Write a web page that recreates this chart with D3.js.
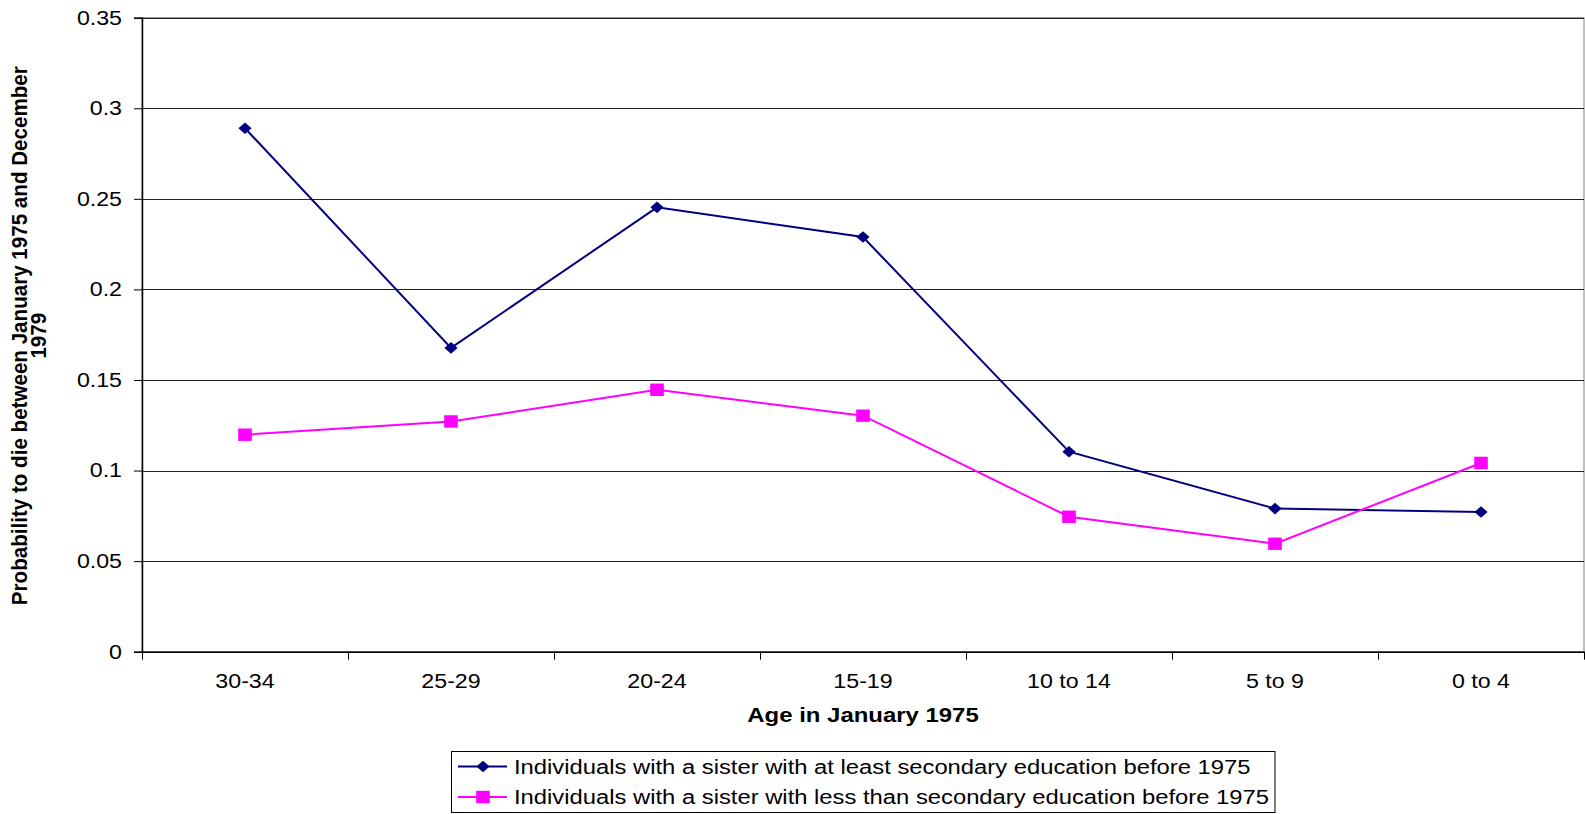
<!DOCTYPE html>
<html>
<head>
<meta charset="utf-8">
<script src="https://cdn.jsdelivr.net/npm/d3@7"></script>
<style>
  html, body { margin: 0; padding: 0; background: #fff; }
  svg { display: block; font-family: "Liberation Sans", Arial, sans-serif; }
</style>
</head>
<body>
<svg id="chart" width="1585" height="814"></svg>
<script>
const categories = ["30-34", "25-29", "20-24", "15-19", "10 to 14", "5 to 9", "0 to 4"];
const seriesAtLeast = [0.289, 0.1677, 0.2453, 0.2289, 0.1104, 0.0790, 0.0771];
const seriesLess = [0.1198, 0.1271, 0.1446, 0.1303, 0.0745, 0.0596, 0.1042];
const yTicks = [0, 0.05, 0.1, 0.15, 0.2, 0.25, 0.3, 0.35];
const seriesNames = [
  "Individuals with a sister with at least secondary education before 1975",
  "Individuals with a sister with less than secondary education before 1975"
];
const xTitle = "Age in January 1975";
const yTitleLines = ["Probability to die between January 1975 and December", "1979"];

const svg = d3.select("#chart");
const M = { left: 142, top: 17.7, right: 1584, bottom: 651.7 };
const FONT = "Liberation Sans, Arial, sans-serif";
const SX = 1.16;

const x = d3.scaleBand().domain(categories).range([M.left, M.right]).paddingInner(0).paddingOuter(0);
const y = d3.scaleLinear().domain([0, 0.35]).range([M.bottom, M.top]);

// plot border
svg.append("rect")
  .attr("x", M.left).attr("y", M.top)
  .attr("width", M.right - M.left).attr("height", M.bottom - M.top)
  .attr("fill", "none").attr("stroke", "#808080").attr("stroke-width", 1);

// gridlines
svg.append("g").selectAll("line")
  .data(yTicks.filter(d => d > 0))
  .join("line")
  .attr("x1", M.left).attr("x2", M.right)
  .attr("y1", d => Math.round(y(d)) + 0.5).attr("y2", d => Math.round(y(d)) + 0.5)
  .attr("stroke", "#222").attr("stroke-width", 1);

// y axis
const yAxis = svg.append("g")
  .attr("transform", `translate(${M.left},0)`)
  .call(d3.axisLeft(y).tickValues(yTicks).tickFormat(d => d === 0 ? "0" : String(+d.toFixed(2))).tickSize(8).tickPadding(12));
yAxis.select(".domain").attr("stroke", "#000").attr("stroke-width", 1.5);
yAxis.selectAll(".tick line").attr("stroke", "#000");
yAxis.selectAll("text")
  .attr("font-size", 20).attr("fill", "#000").attr("font-family", FONT)
  .attr("x", -20 / SX)
  .attr("transform", `scale(${SX},1)`);

// x axis
const xAxis = svg.append("g")
  .attr("transform", `translate(0,${M.bottom})`)
  .call(d3.axisBottom(x).tickSize(0).tickPadding(22));
xAxis.select(".domain").attr("stroke", "#000").attr("stroke-width", 1.5);
xAxis.selectAll("text")
  .attr("font-size", 20).attr("fill", "#000").attr("font-family", FONT)
  .attr("transform", `scale(${SX},1)`);
// boundary ticks between categories
const boundaries = categories.map(c => x(c)).concat([M.right]);
svg.append("g").selectAll("line")
  .data(boundaries)
  .join("line")
  .attr("x1", d => Math.round(d) + 0.5).attr("x2", d => Math.round(d) + 0.5)
  .attr("y1", M.bottom).attr("y2", M.bottom + 8)
  .attr("stroke", "#000").attr("stroke-width", 1);

// axis titles
svg.append("text")
  .attr("transform", `translate(${(M.left + M.right) / 2},721.5) scale(1.14,1)`)
  .attr("text-anchor", "middle")
  .attr("font-size", 21).attr("font-weight", "bold").attr("font-family", FONT)
  .text(xTitle);

const yt = svg.append("text")
  .attr("transform", `translate(27,${(M.top + M.bottom) / 2 + 1}) scale(1.1,1) rotate(-90)`)
  .attr("text-anchor", "middle")
  .attr("font-size", 20.6).attr("font-weight", "bold").attr("font-family", FONT);
yTitleLines.forEach((t, i) => {
  yt.append("tspan").attr("x", 0).attr("dy", i === 0 ? 0 : 17).text(t);
});

// lines
const cx = c => x(c) + x.bandwidth() / 2;
const colors = ["#000080", "#FF00FF"];
const allSeries = [seriesAtLeast, seriesLess];
const line = d3.line().x((d, i) => cx(categories[i])).y(d => y(d));

allSeries.forEach((s, k) => {
  svg.append("path").datum(s)
    .attr("d", line).attr("fill", "none")
    .attr("stroke", colors[k]).attr("stroke-width", 2);
});

// markers
function drawMarker(g, k, px, py) {
  if (k === 0) {
    const w = 6.6, h = 5.8;
    g.append("path")
      .attr("d", `M${px - w},${py}L${px},${py - h}L${px + w},${py}L${px},${py + h}Z`)
      .attr("fill", colors[0]);
  } else {
    g.append("rect").attr("x", px - 6.8).attr("y", py - 6.2)
      .attr("width", 13.6).attr("height", 12.4).attr("fill", colors[1]);
  }
}
const mg = svg.append("g");
allSeries.forEach((s, k) => {
  s.forEach((v, i) => drawMarker(mg, k, cx(categories[i]), y(v)));
});

// legend
const lg = svg.append("g");
lg.append("rect").attr("x", 451.5).attr("y", 751.5).attr("width", 823.5).attr("height", 61)
  .attr("fill", "#fff").attr("stroke", "#000").attr("stroke-width", 1);
const rowsY = [766.5, 797];
seriesNames.forEach((name, k) => {
  lg.append("line").attr("x1", 458).attr("x2", 507)
    .attr("y1", rowsY[k]).attr("y2", rowsY[k])
    .attr("stroke", colors[k]).attr("stroke-width", 2);
  drawMarker(lg, k, 483, rowsY[k]);
  lg.append("text")
    .attr("transform", `translate(514,${rowsY[k] + 7}) scale(1.19,1)`)
    .attr("font-size", 20).attr("fill", "#000").attr("font-family", FONT)
    .text(name);
});
</script>
</body>
</html>
